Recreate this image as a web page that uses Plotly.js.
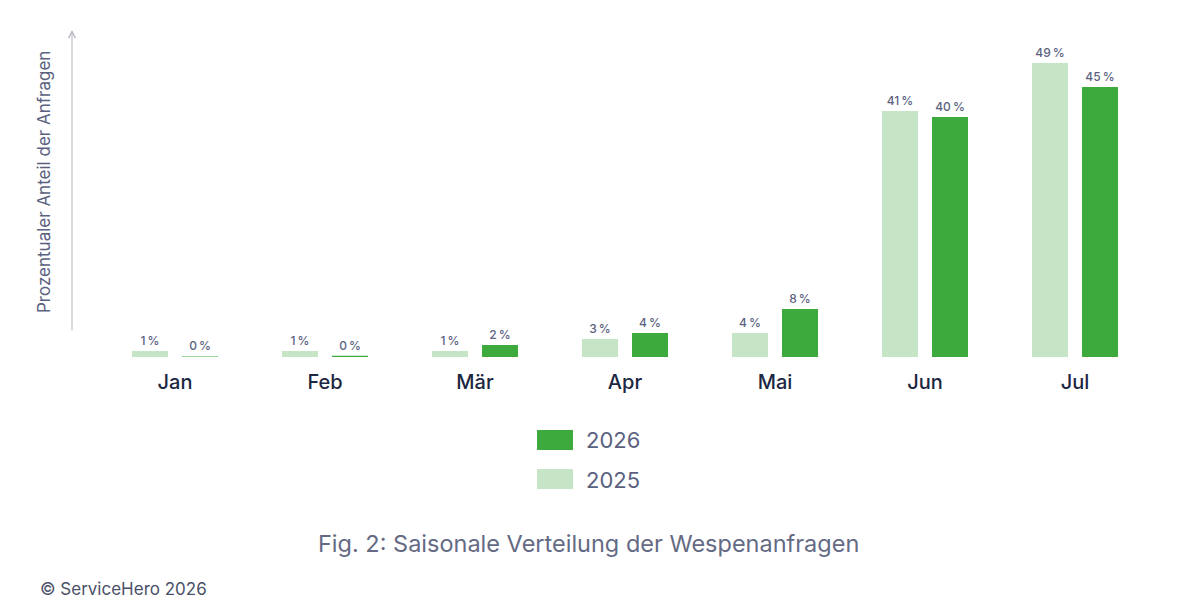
<!DOCTYPE html>
<html>
<head>
<meta charset="utf-8">
<script src="https://cdn.plot.ly/plotly-3.0.1.min.js"></script>
<style>
  html, body { margin: 0; padding: 0; background: #fff; }
  #chart { width: 1185px; height: 601px; }
</style>
</head>
<body>
<div id="chart"></div>
<script>
// data
var months = ['Jan', 'Feb', 'Mär', 'Apr', 'Mai', 'Jun', 'Jul'];
var values2025 = [1, 1, 1, 3, 4, 41, 49];
var values2026 = [0.1, 0.2, 2, 4, 8, 40, 45];
var labels2025 = ['1', '1', '1', '3', '4', '41', '49'];
var labels2026 = ['0', '0', '2', '4', '8', '40', '45'];
var seriesNames = ['2025', '2026'];

var light = '#c5e5c6';
var dark = '#3caa3c';
var textGray = '#5b6280';
var font = 'Inter, "Noto Sans", sans-serif';

// plot area in pixels: x 100..1150, y 30..357
function px(x) { return (x - 100) / 1050; }
function py(y) { return (357 - y) / 327; }

function pct(arr) {
    return arr.map(function(v) { return v + '\u202F%'; });
}

var trace1 = {
    x: months,
    y: values2025,
    name: seriesNames[0],
    type: 'bar',
    marker: { color: light },
    text: pct(labels2025),
    textposition: 'outside',
    textfont: { family: font, size: 12, color: textGray, weight: 500 },
    cliponaxis: false,
    hoverinfo: 'skip'
};

var trace2 = {
    x: months,
    y: values2026,
    name: seriesNames[1],
    type: 'bar',
    marker: { color: dark },
    text: pct(labels2026),
    textposition: 'outside',
    textfont: { family: font, size: 12, color: textGray, weight: 500 },
    cliponaxis: false,
    hoverinfo: 'skip'
};

var data = [trace1, trace2];

function note(x, y, text, size, color, xanchor) {
    return {
        xref: 'paper', yref: 'paper', x: px(x), y: py(y), text: text,
        xanchor: xanchor || 'center', yanchor: 'middle', showarrow: false,
        font: { family: font, size: size, color: color }
    };
}

var yTitle = note(44, 182, 'Prozentualer Anteil der Anfragen', 17, textGray);
yTitle.textangle = -90;

// copyright sits right at the bottom edge
var copyright = note(39, 600, '© ServiceHero 2026', 17, '#4a5068', 'left');
copyright.yanchor = 'bottom';
copyright.borderpad = 0;

var layout = {
    width: 1185,
    height: 601,
    margin: { l: 100, r: 35, t: 30, b: 244 },
    paper_bgcolor: '#fff',
    plot_bgcolor: '#fff',
    showlegend: false,
    barmode: 'group',
    bargap: 1 / 3,
    bargroupgap: 0.28,
    font: { family: font, color: textGray },
    xaxis: {
        range: [-0.5, 6.5],
        showgrid: false,
        zeroline: false,
        showline: false,
        ticks: 'outside',
        ticklen: 7,
        tickcolor: 'rgba(0,0,0,0)',
        tickfont: { family: font, size: 20, color: '#1c2742', weight: 500 }
    },
    yaxis: {
        range: [0, 54.5],
        showgrid: false,
        zeroline: false,
        showline: false,
        showticklabels: false
    },
    shapes: [
        { type: 'rect', xref: 'paper', yref: 'paper', x0: px(537), x1: px(573), y0: py(430), y1: py(450),
          fillcolor: dark, line: { width: 0 } },
        { type: 'rect', xref: 'paper', yref: 'paper', x0: px(537), x1: px(573), y0: py(469), y1: py(489),
          fillcolor: light, line: { width: 0 } }
    ],
    annotations: [
        // y axis arrow
        { xref: 'paper', yref: 'paper', x: px(72), y: py(30), ax: 0, ay: 302, text: '',
          showarrow: true, arrowhead: 5, arrowsize: 1.3, arrowwidth: 1, arrowcolor: '#b4b8c4' },
        yTitle,
        // legend
        note(584, 440, seriesNames[1], 22, textGray, 'left'),
        note(584, 480, seriesNames[0], 22, textGray, 'left'),
        // caption
        note(588, 543, 'Fig. 2: Saisonale Verteilung der Wespenanfragen', 23.5, '#646a84'),
        copyright
    ]
};

Plotly.newPlot('chart', data, layout, { displayModeBar: false, staticPlot: true });
</script>
</body>
</html>
